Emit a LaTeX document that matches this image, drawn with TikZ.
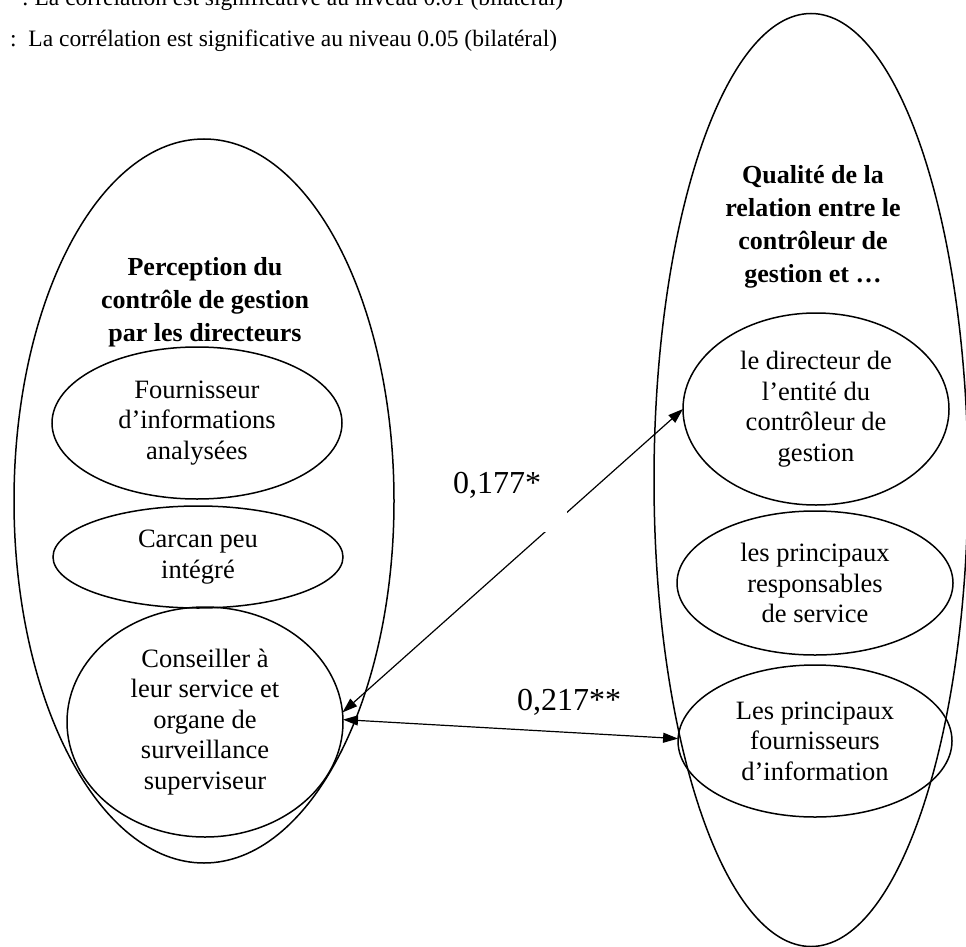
\documentclass[tikz,border=0pt]{standalone}
\usepackage{fontspec}
\setmainfont{Liberation Serif}
\usetikzlibrary{shapes.geometric,arrows.meta}

\tikzset{
  oval/.style={ellipse, draw, line width=1.5pt, inner sep=0pt, outer sep=0pt, align=center, font=\fontsize{26.5}{30.5}\selectfont},
  ttl/.style={align=center, inner sep=0pt, font=\fontsize{26}{33}\selectfont\bfseries},
  coef/.style={inner sep=0pt, font=\fontsize{32}{36}\selectfont},
  note/.style={anchor=base west, inner sep=0pt, font=\fontsize{23.5}{27}\selectfont},
  link/.style={line width=1.2pt, {Triangle[length=15pt,width=10pt]}-{Triangle[length=15pt,width=10pt]}}
}

\begin{document}
\begin{tikzpicture}[x=1pt,y=1pt,yscale=-1]
\useasboundingbox (0,0) rectangle (966,947);

% Text Node
\node[note] (n1) at (22,6) {:\ La corrélation est significative au niveau 0.01 (bilatéral)};
% Text Node
\node[note] (n2) at (10,47) {:\ \ La corrélation est significative au niveau 0.05 (bilatéral)};

%Shape: Ellipse
\node[oval, minimum width=380pt, minimum height=724pt] (dirs) at (204,501) {};
%Shape: Ellipse
\node[oval, minimum width=314pt, minimum height=933pt] (qual) at (811,480) {};

%Shape: Ellipse
\node[oval, minimum width=290pt, minimum height=152pt] (four) at (197,423) {Fournisseur\\d’informations\\analysées};
%Shape: Ellipse
\node[oval, minimum width=290pt, minimum height=102pt] (carc) at (198,557) {Carcan peu\\intégré};
%Shape: Ellipse
\node[oval, minimum width=276pt, minimum height=230pt] (cons) at (205,722) {Conseiller à\\leur service et\\organe de\\surveillance\\superviseur};
%Shape: Ellipse
\node[oval, minimum width=266pt, minimum height=192pt] (dir) at (816,409) {le directeur de\\l’entité du\\contrôleur de\\gestion};
%Shape: Ellipse
\node[oval, minimum width=276pt, minimum height=144pt] (resp) at (815,583) {les principaux\\responsables\\de service};
%Shape: Ellipse
\node[oval, minimum width=274pt, minimum height=152pt] (fourn) at (815,741) {Les principaux\\fournisseurs\\d’information};

% Text Node
\node[ttl] (tdirs) at (205,302) {Perception du\\contrôle de gestion\\par les directeurs};
% Text Node
\node[ttl] (tqual) at (813,227) {Qualité de la\\relation entre le\\contrôleur de\\gestion et …};

%Straight Lines
\draw[link] (cons.4) -- (dir.west);
%Straight Lines
\draw[link] (cons.1) -- (fourn.179);

% Text Node
\node[coef, fill=white, text width=114pt, inner ysep=38pt, text depth=0pt, anchor=south west, align=left] (r1) at (453,532) {0,177*};
% Text Node
\node[coef, anchor=base west] (r2) at (517,710) {0,217**};

\end{tikzpicture}
\end{document}
